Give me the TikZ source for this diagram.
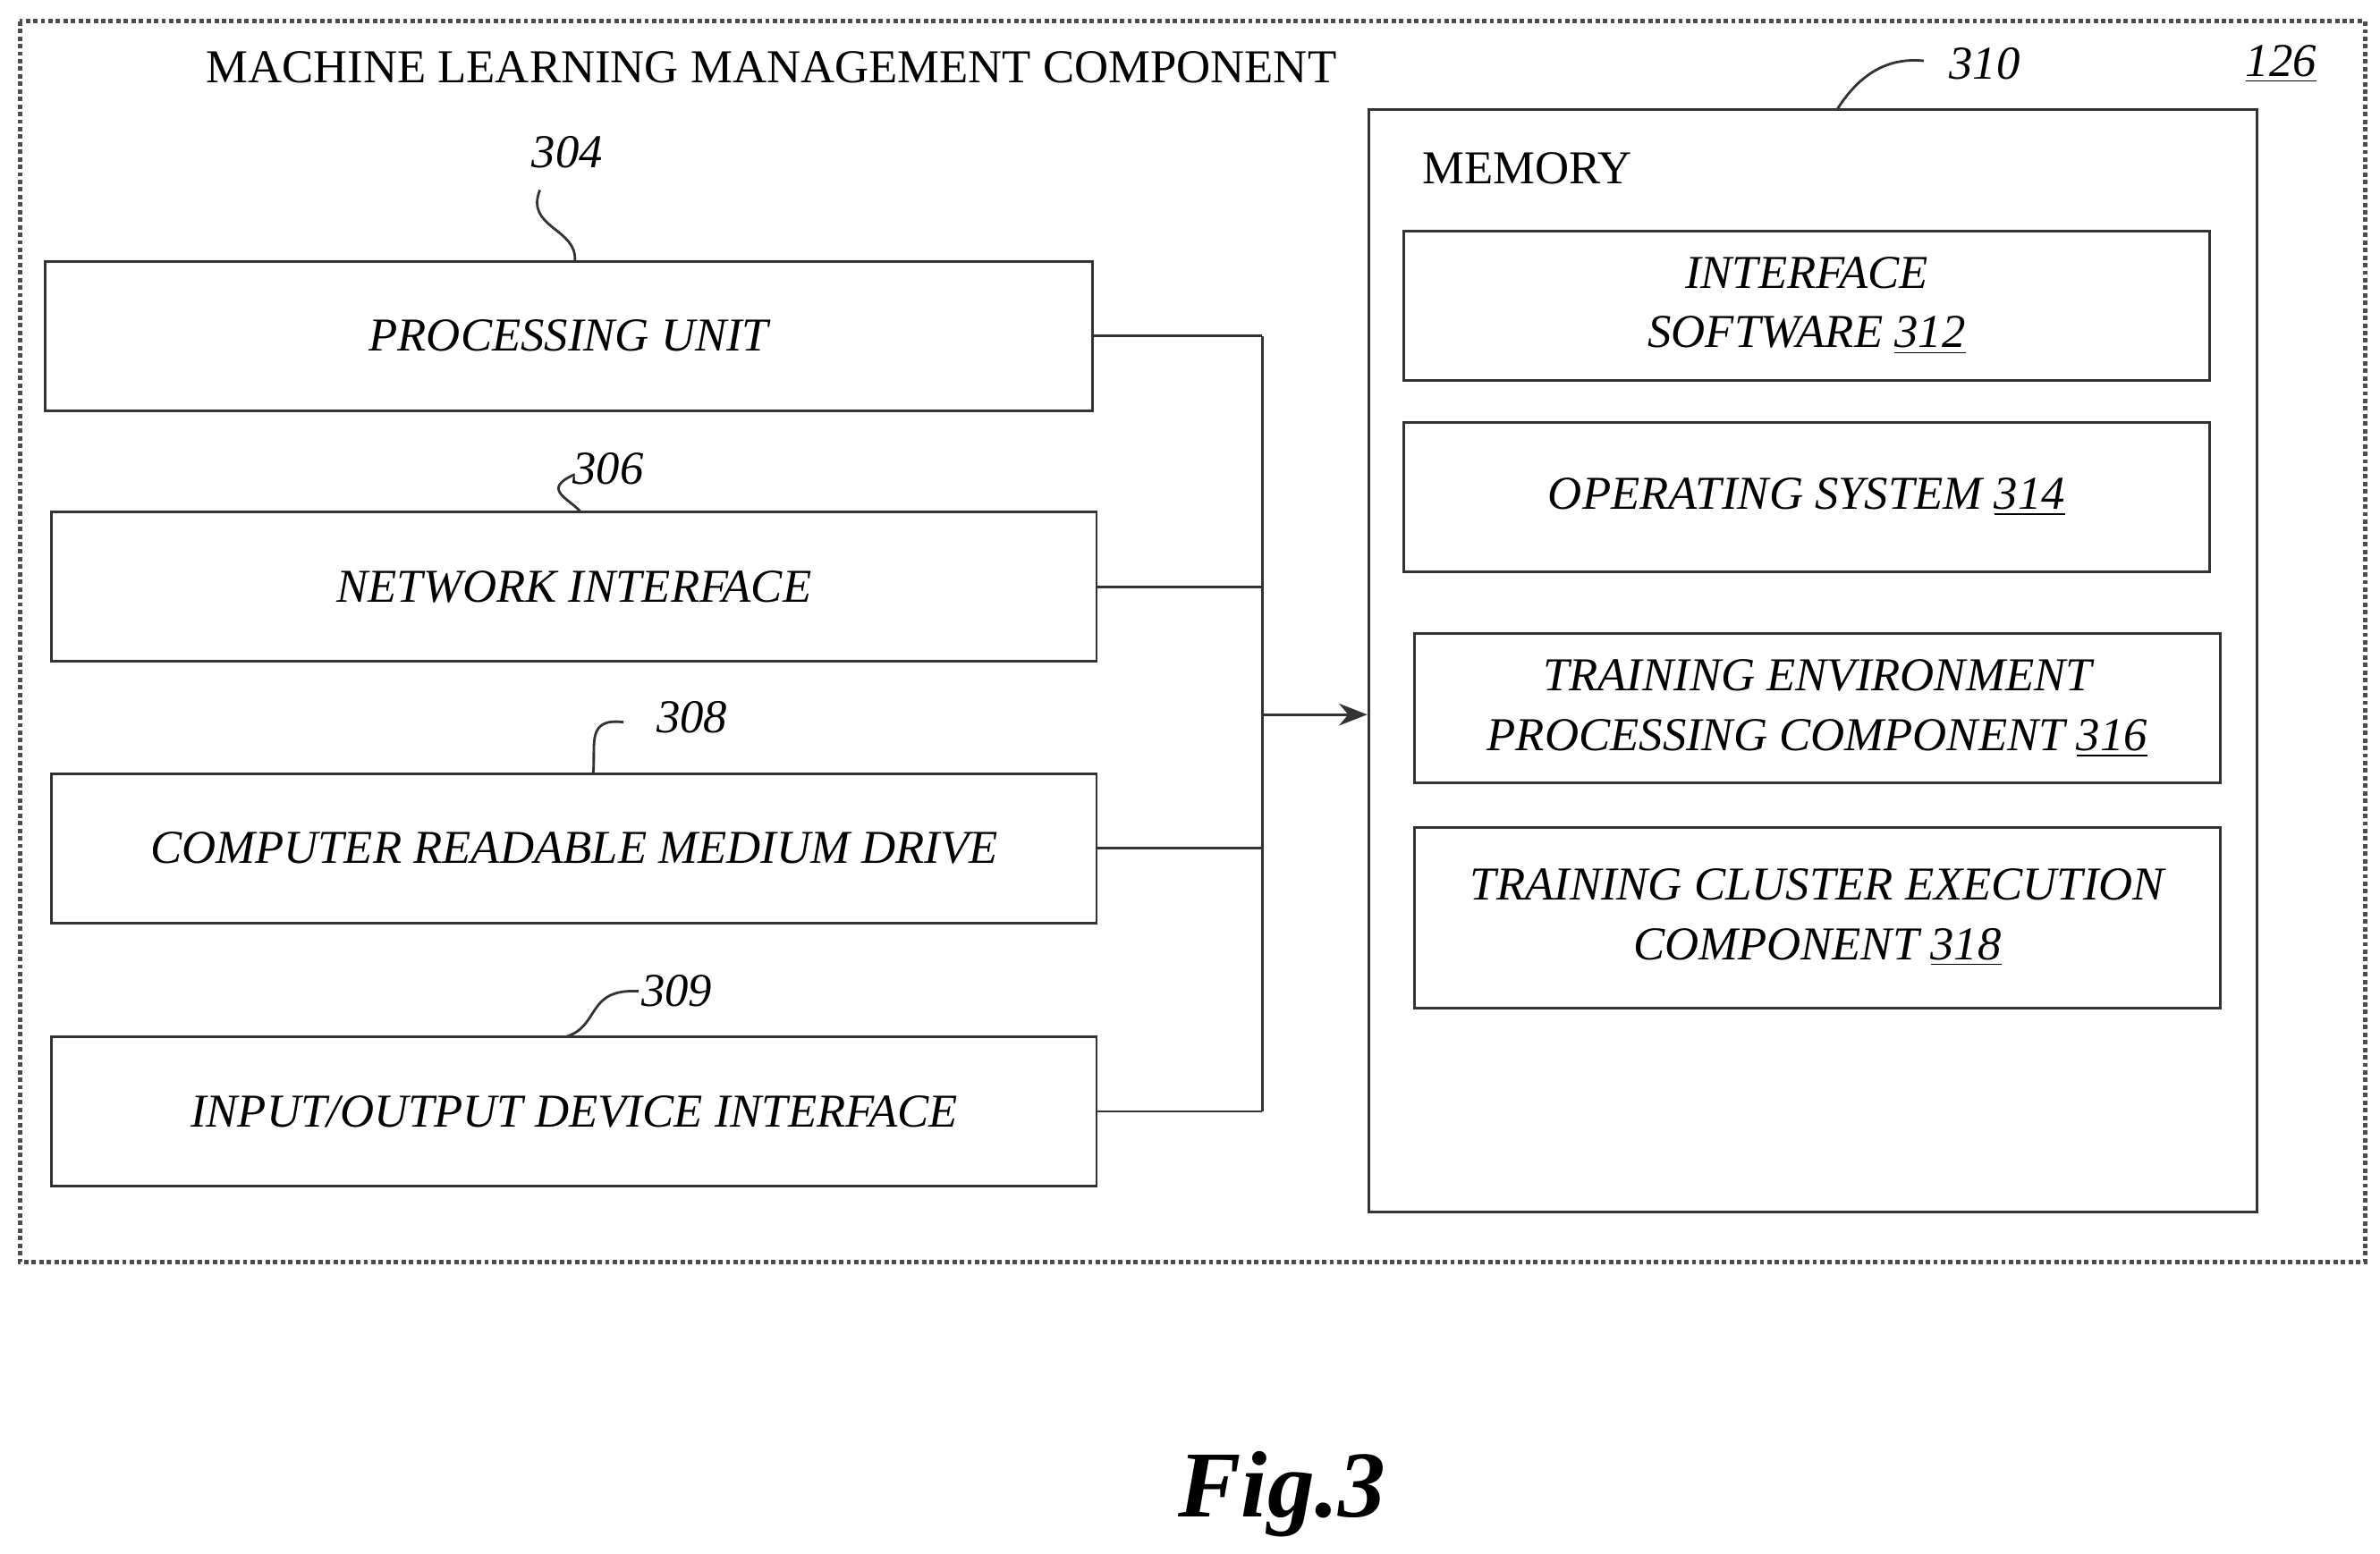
\documentclass[tikz,border=0pt]{standalone}
\usepackage{fontspec}
\setmainfont{Liberation Serif}
\usetikzlibrary{arrows.meta}
\tikzset{
  blk/.style={draw=black!80, line width=0.8pt, font=\fontsize{15}{19}\selectfont\itshape, align=center, inner sep=2pt},
  lbl/.style={font=\fontsize{15}{18}\selectfont\itshape, inner sep=1pt},
  wire/.style={draw=black!80, line width=0.8pt}
}
\newcommand{\ul}[1]{\underline{#1}}
\begin{document}
\begin{tikzpicture}[x=0.017cm, y=-0.017cm]
  \useasboundingbox (0,0) rectangle (1565,1022);
  % outer component
  \draw[black!70, line width=1.4pt, densely dotted] (13,14) rectangle (1555,830);
  \node[anchor=west, font=\fontsize{15}{18}\selectfont, inner sep=0] (title) at (135,44) {MACHINE LEARNING MANAGEMENT COMPONENT};
  \node[lbl] (n126) at (1500,42) {\ul{126}};

  % left column
  \node[blk, minimum width=11.70cm, minimum height=1.67cm] (proc) at (374,221) {PROCESSING UNIT};
  \node[blk, minimum width=11.68cm, minimum height=1.67cm] (net) at (377.5,386) {NETWORK INTERFACE};
  \node[blk, minimum width=11.68cm, minimum height=1.67cm] (crm) at (377.5,558) {COMPUTER READABLE MEDIUM DRIVE};
  \node[blk, minimum width=11.68cm, minimum height=1.67cm] (io) at (377.5,731) {INPUT/OUTPUT DEVICE INTERFACE};

  % memory
  \node[blk, minimum width=9.93cm, minimum height=12.33cm] (mem) at (1192,434.5) {};
  \node[anchor=west, font=\fontsize{15}{18}\selectfont, inner sep=0] (memt) at (935,111) {MEMORY};
  \node[blk, minimum width=9.01cm, minimum height=1.67cm] (isw) at (1188,201) {INTERFACE\\SOFTWARE \ul{312}};
  \node[blk, minimum width=9.01cm, minimum height=1.67cm] (os) at (1188,327) {OPERATING SYSTEM \ul{314}};
  \node[blk, minimum width=9.01cm, minimum height=1.67cm] (tep) at (1195,466) {TRAINING ENVIRONMENT\\PROCESSING COMPONENT \ul{316}};
  \node[blk, minimum width=9.01cm, minimum height=2.02cm] (tce) at (1195,603.5) {TRAINING CLUSTER EXECUTION\\COMPONENT \ul{318}};

  % bus
  \coordinate (bt) at (830,221);
  \coordinate (bb) at (830,731);
  \coordinate (bm) at (830,470);
  \draw[wire] (bt) -- (bb);
  \draw[wire] (proc.east) -- (proc.east -| bt);
  \draw[wire] (net.east) -- (net.east -| bt);
  \draw[wire] (crm.east) -- (crm.east -| bt);
  \draw[wire] (io.east) -- (io.east -| bt);
  \draw[wire, -{Stealth[length=9pt, width=7pt]}] (bm) -- (bm -| mem.west);

  % reference numerals
  \node[lbl] (n304) at (373,100) {304};
  \node[lbl] (n306) at (400,308) {306};
  \node[lbl] (n308) at (455,472) {308};
  \node[lbl] (n309) at (445,652) {309};
  \node[lbl] (n310) at (1305,42) {310};
  \draw[wire] (378,172) .. controls (380,150) and (345,150) .. (355,125);
  \draw[wire] (382,337) .. controls (375,328) and (355,322) .. (378,312);
  \draw[wire] (390,509) .. controls (392,490) and (385,472) .. (410,475);
  \draw[wire] (372,682) .. controls (395,675) and (385,650) .. (420,652);
  \draw[wire] (1208,72) .. controls (1225,45) and (1245,38) .. (1265,40);

  \node[font=\fontsize{30}{34}\selectfont\bfseries\itshape] (fig) at (843,983) {Fig.3};
\end{tikzpicture}
\end{document}
